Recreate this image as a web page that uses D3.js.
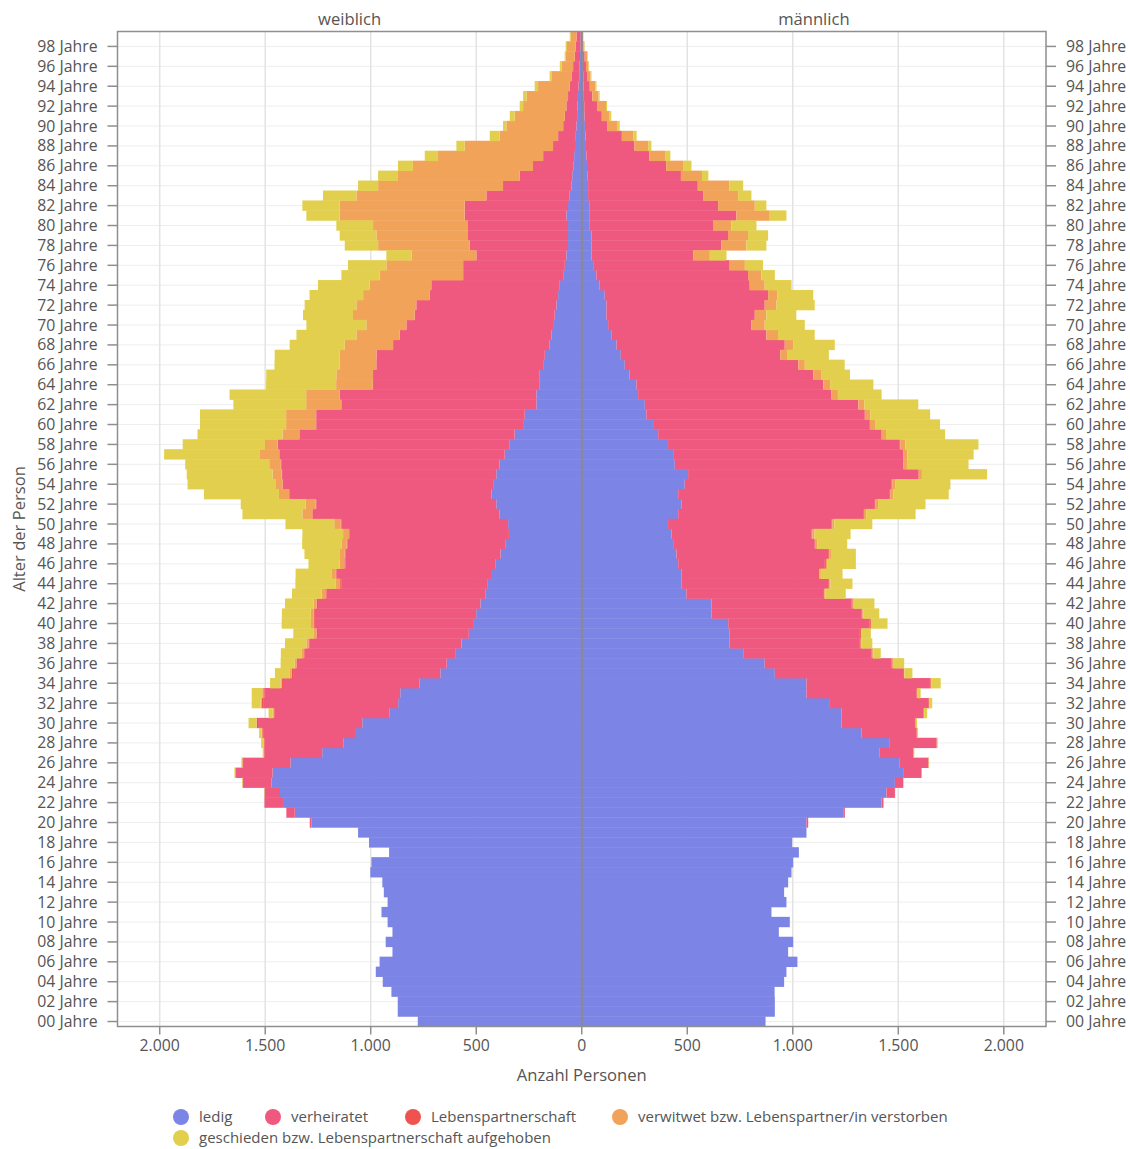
<!DOCTYPE html>
<html>
<head>
<meta charset="utf-8">
<script src="https://cdn.jsdelivr.net/npm/d3@7"></script>
<style>
  body { margin: 0; background: #fff; }
  text { font-family: "Open Sans", sans-serif; fill: #555; font-size: 15.8px; }
  text.axisTitle { font-size: 16.6px; }
  .legend text { font-size: 15px; }
</style>
</head>
<body>
<svg class="svgChart"></svg>
<script>
// ages 0 - 99, one value per age
var ages = d3.range(0, 100);

// weiblich
var femLedig = [
  777, 872, 872, 902, 943, 976, 958, 897, 929, 897,
  920, 949, 920, 938, 945, 1002, 997, 913, 1008, 1060,
  1280, 1360, 1416, 1430, 1470, 1465, 1380, 1230, 1130, 1070,
  1040, 910, 870, 860, 768, 670, 640, 600, 570, 535,
  515, 500, 480, 455, 445, 430, 410, 385, 360, 345,
  349, 389, 405, 428, 420, 405, 389, 365, 341, 318,
  278, 270, 215, 215, 199, 199, 183, 175, 152, 144,
  136, 128, 120, 112, 104, 88, 80, 73, 65, 65,
  65, 73, 65, 57, 49, 45, 40, 36, 32, 28,
  25, 22, 20, 18, 15, 12, 10, 8, 6, 5
];
var femVerheiratet = [
  0, 0, 0, 0, 0, 0, 0, 0, 0, 0,
  0, 0, 0, 0, 0, 0, 0, 0, 0, 0,
  9, 40, 87, 73, 135, 175, 225, 273, 373, 440,
  494, 545, 640, 643, 648, 698, 705, 713, 719, 715,
  750, 765, 770, 755, 695, 733, 710, 735, 750, 755,
  790, 885, 853, 956, 996, 1015, 1035, 1067, 1099, 1019,
  980, 988, 924, 932, 790, 790, 790, 798, 742, 719,
  695, 664, 664, 608, 609, 474, 482, 426, 466, 474,
  474, 482, 490, 395, 324, 249, 191, 147, 104, 84,
  63, 58, 53, 47, 42, 37, 31, 25, 22, 20
];
var femPartner = [
  0, 0, 0, 0, 0, 0, 0, 0, 0, 0,
  0, 0, 0, 0, 0, 0, 0, 0, 0, 0,
  0, 0, 1, 1, 2, 2, 3, 3, 4, 4,
  5, 5, 6, 6, 6, 7, 7, 6, 6, 7,
  6, 5, 6, 5, 5, 4, 5, 4, 4, 3,
  4, 3, 3, 3, 2, 2, 2, 2, 1, 2,
  1, 1, 1, 1, 1, 0, 1, 0, 0, 0,
  0, 0, 0, 0, 0, 0, 0, 0, 0, 0,
  0, 0, 0, 0, 0, 0, 0, 0, 0, 0,
  0, 0, 0, 0, 0, 0, 0, 0, 0, 0
];
var femVerwitwet = [
  0, 0, 0, 0, 0, 0, 0, 0, 0, 0,
  0, 0, 0, 0, 0, 0, 0, 0, 0, 0,
  0, 0, 0, 0, 0, 0, 0, 0, 2, 3,
  3, 4, 5, 5, 6, 8, 8, 10, 10, 12,
  12, 14, 15, 18, 20, 20, 22, 25, 25, 28,
  30, 47, 47, 48, 31, 43, 55, 94, 60, 79,
  142, 142, 166, 158, 174, 174, 174, 174, 229, 205,
  190, 292, 284, 316, 292, 395, 364, 308, 434, 434,
  450, 592, 592, 616, 592, 577, 569, 498, 419, 277,
  269, 238, 205, 197, 150, 95, 55, 43, 42, 27
];
var femGeschieden = [
  0, 0, 0, 0, 0, 0, 0, 0, 0, 0,
  0, 0, 0, 0, 0, 0, 0, 0, 0, 0,
  0, 0, 0, 2, 3, 4, 5, 6, 10, 12,
  37, 20, 43, 50, 49, 71, 67, 97, 101, 98,
  139, 137, 135, 140, 192, 169, 148, 165, 186, 193,
  231, 284, 308, 355, 419, 407, 398, 451, 390, 403,
  408, 408, 345, 363, 332, 332, 308, 308, 261, 284,
  284, 237, 245, 254, 245, 182, 182, 119, 158, 174,
  174, 158, 177, 158, 95, 94, 71, 63, 39, 47,
  16, 23, 16, 16, 16, 8, 8, 5, 6, 5
];

// männlich
var manLedig = [
  871, 915, 915, 914, 959, 970, 1022, 978, 1002, 934,
  986, 899, 970, 959, 978, 994, 1002, 1029, 997, 1065,
  1065, 1239, 1420, 1444, 1484, 1523, 1507, 1412, 1460, 1326,
  1231, 1231, 1176, 1065, 1065, 915, 867, 765, 701, 701,
  694, 615, 615, 496, 472, 472, 457, 449, 433, 425,
  409, 457, 472, 457, 488, 504, 441, 433, 409, 362,
  338, 306, 299, 267, 259, 227, 204, 185, 165, 140,
  125, 117, 117, 109, 85, 69, 54, 46, 46, 46,
  38, 38, 38, 30, 30, 28, 25, 22, 20, 18,
  15, 13, 12, 10, 8, 7, 5, 4, 3, 2
];
var manVerheiratet = [
  0, 0, 0, 0, 0, 0, 0, 0, 0, 0,
  0, 0, 0, 0, 0, 0, 0, 0, 0, 0,
  8, 8, 10, 40, 39, 87, 135, 159, 221, 260,
  348, 387, 466, 521, 585, 608, 601, 608, 617, 617,
  671, 710, 663, 648, 696, 648, 695, 719, 671, 664,
  774, 876, 917, 1003, 980, 1090, 1082, 1090, 1098, 1058,
  1027, 1035, 1011, 916, 885, 870, 822, 755, 797, 735,
  679, 703, 750, 774, 711, 719, 647, 482, 616, 647,
  584, 695, 608, 545, 520, 442, 375, 298, 230, 172,
  105, 82, 63, 40, 30, 21, 15, 10, 4, 2
];
var manPartner = [
  0, 0, 0, 0, 0, 0, 0, 0, 0, 0,
  0, 0, 0, 0, 0, 0, 0, 0, 0, 0,
  0, 0, 0, 1, 1, 1, 2, 2, 2, 3,
  3, 3, 4, 4, 4, 4, 5, 5, 4, 5,
  5, 5, 6, 5, 5, 6, 5, 5, 4, 4,
  4, 4, 3, 3, 3, 3, 2, 2, 2, 2,
  1, 1, 1, 1, 1, 1, 0, 1, 0, 0,
  0, 0, 0, 0, 0, 0, 0, 0, 0, 0,
  0, 0, 0, 0, 0, 0, 0, 0, 0, 0,
  0, 0, 0, 0, 0, 0, 0, 0, 0, 0
];
var manVerwitwet = [
  0, 0, 0, 0, 0, 0, 0, 0, 0, 0,
  0, 0, 0, 0, 0, 0, 0, 0, 0, 0,
  0, 0, 0, 0, 0, 0, 0, 0, 0, 0,
  1, 1, 2, 2, 2, 2, 2, 3, 3, 3,
  4, 5, 5, 6, 6, 7, 8, 8, 9, 10,
  10, 11, 12, 13, 14, 15, 16, 18, 24, 20,
  24, 25, 28, 30, 32, 39, 31, 35, 40, 55,
  63, 55, 56, 45, 71, 63, 72, 79, 118, 95,
  87, 158, 174, 166, 150, 100, 80, 75, 65, 55,
  50, 37, 40, 30, 26, 14, 12, 11, 5, 3
];
var manGeschieden = [
  0, 0, 0, 0, 0, 0, 0, 0, 0, 0,
  0, 0, 0, 0, 0, 0, 0, 0, 0, 0,
  0, 0, 0, 0, 0, 1, 2, 3, 4, 5,
  6, 15, 13, 14, 45, 38, 53, 36, 52, 44,
  75, 75, 98, 96, 104, 103, 134, 118, 141, 171,
  180, 234, 225, 263, 262, 309, 292, 314, 347, 280,
  308, 284, 256, 207, 205, 134, 189, 195, 197, 174,
  190, 142, 181, 169, 127, 64, 86, 79, 95, 95,
  119, 79, 55, 63, 65, 30, 40, 25, 15, 15,
  10, 8, 5, 5, 6, 4, 3, 3, 2, 1
];

var keys = ['ledig', 'verheiratet', 'partner', 'verwitwet', 'geschieden'];
var legendLabels = ['ledig', 'verheiratet', 'Lebenspartnerschaft',
  'verwitwet bzw. Lebenspartner/in verstorben',
  'geschieden bzw. Lebenspartnerschaft aufgehoben'];
var colorArr = ['#7c84e6', '#ef597f', '#ef5350', '#f2a35a', '#e2cf4e'];
var xTicks = [-2000, -1500, -1000, -500, 0, 500, 1000, 1500, 2000];

// set the dimensions and margins of the graph
var margin = {top: 31.5, right: 84, bottom: 122.5, left: 117.5};
var width = 1130 - margin.left - margin.right;
var height = 1149 - margin.top - margin.bottom;

var de = d3.formatLocale({decimal: ',', thousands: '.', grouping: [3], currency: ['', ' €']});
var fmt = de.format(',');

function buildRows(l, v, p, w, g) {
  return ages.map(function(a) {
    return {age: a, ledig: l[a], verheiratet: v[a], partner: p[a], verwitwet: w[a], geschieden: g[a]};
  });
}
var femRows = buildRows(femLedig, femVerheiratet, femPartner, femVerwitwet, femGeschieden);
var manRows = buildRows(manLedig, manVerheiratet, manPartner, manVerwitwet, manGeschieden);

var svg = d3.select('.svgChart')
  .attr('width', 1130)
  .attr('height', 1149);

var g = svg.append('g')
  .attr('transform', 'translate(' + margin.left + ',' + margin.top + ')');

var xScale = d3.scaleLinear()
  .domain([-2200, 2200])
  .range([0, width]);

var yScale = d3.scaleBand()
  .domain(ages)
  .range([height, 0])
  .padding(0);

var zScale = d3.scaleOrdinal()
  .domain(keys)
  .range(colorArr);

var evenAges = ages.filter(function(a) { return a % 2 === 0; });
var bw = yScale.bandwidth();

/******************GRID*********************/
g.append('g')
  .selectAll('line')
  .data(evenAges)
  .enter()
  .append('line')
    .attr('x1', 0)
    .attr('x2', width)
    .attr('y1', function(d) { return yScale(d) + bw / 2; })
    .attr('y2', function(d) { return yScale(d) + bw / 2; })
    .attr('stroke', '#eeeeee')
    .attr('stroke-width', 1);

g.append('g')
  .selectAll('line')
  .data(xTicks.filter(function(d) { return d !== 0; }))
  .enter()
  .append('line')
    .attr('x1', function(d) { return xScale(d); })
    .attr('x2', function(d) { return xScale(d); })
    .attr('y1', 0)
    .attr('y2', height)
    .attr('stroke', '#e3e3e3')
    .attr('stroke-width', 1.5);

/******************BARS*********************/
var stack = d3.stack().keys(keys);

function drawSide(rows, sign) {
  g.append('g')
    .selectAll('g')
    .data(stack(rows))
    .enter()
    .append('g')
      .attr('fill', function(d) { return zScale(d.key); })
    .selectAll('rect')
    .data(function(d) { return d; })
    .enter()
    .append('rect')
      .attr('x', function(d) { return Math.min(xScale(sign * d[0]), xScale(sign * d[1])); })
      .attr('width', function(d) { return Math.abs(xScale(sign * d[1]) - xScale(sign * d[0])); })
      .attr('y', function(d) { return yScale(d.data.age) - 0.2; })
      .attr('height', bw + 0.4);
}
drawSide(femRows, -1);
drawSide(manRows, 1);

// zero line
g.append('line')
  .attr('x1', xScale(0))
  .attr('x2', xScale(0))
  .attr('y1', 0)
  .attr('y2', height)
  .attr('stroke', '#8a8a8a')
  .attr('stroke-width', 2);

/******************AXES*********************/
// frame round the plot
g.append('rect')
  .attr('x', 0)
  .attr('y', 0)
  .attr('width', width)
  .attr('height', height)
  .attr('fill', 'none')
  .attr('stroke', '#8f8f8f')
  .attr('stroke-width', 1.5);

function ageLabel(a) {
  return (a < 10 ? '0' + a : a) + ' Jahre';
}

// y ticks, both sides
[{x0: -10, x1: 0, tx: -20, anchor: 'end'},
 {x0: width, x1: width + 10, tx: width + 20, anchor: 'start'}].forEach(function(s) {
  var ax = g.append('g').attr('class', 'yAxis');
  ax.selectAll('line')
    .data(evenAges)
    .enter()
    .append('line')
      .attr('x1', s.x0)
      .attr('x2', s.x1)
      .attr('y1', function(d) { return yScale(d) + bw / 2; })
      .attr('y2', function(d) { return yScale(d) + bw / 2; })
      .attr('stroke', '#8f8f8f')
      .attr('stroke-width', 1.5);
  ax.selectAll('text')
    .data(evenAges)
    .enter()
    .append('text')
      .attr('x', s.tx)
      .attr('y', function(d) { return yScale(d) + bw / 2; })
      .attr('dy', '0.35em')
      .attr('text-anchor', s.anchor)
      .text(ageLabel);
});

// x ticks
var xAxis = g.append('g').attr('class', 'xAxis');
xAxis.selectAll('line')
  .data(xTicks)
  .enter()
  .append('line')
    .attr('x1', function(d) { return xScale(d); })
    .attr('x2', function(d) { return xScale(d); })
    .attr('y1', height)
    .attr('y2', height + 8)
    .attr('stroke', '#8f8f8f')
    .attr('stroke-width', 1.5);
xAxis.selectAll('text')
  .data(xTicks)
  .enter()
  .append('text')
    .attr('x', function(d) { return xScale(d); })
    .attr('y', height + 19)
    .attr('dy', '0.35em')
    .attr('text-anchor', 'middle')
    .text(function(d) { return fmt(Math.abs(d)); });

/******************TITLES*********************/
g.append('text')
  .attr('class', 'axisTitle')
  .attr('x', xScale(-1100))
  .attr('y', -12)
  .attr('dy', '0.35em')
  .attr('text-anchor', 'middle')
  .text('weiblich');

g.append('text')
  .attr('class', 'axisTitle')
  .attr('x', xScale(1100))
  .attr('y', -12)
  .attr('dy', '0.35em')
  .attr('text-anchor', 'middle')
  .text('männlich');

g.append('text')
  .attr('class', 'axisTitle')
  .attr('x', width / 2)
  .attr('y', height + 49)
  .attr('dy', '0.35em')
  .attr('text-anchor', 'middle')
  .text('Anzahl Personen');

svg.append('text')
  .attr('class', 'axisTitle')
  .attr('transform', 'translate(19,' + (margin.top + height / 2) + ') rotate(-90)')
  .attr('dy', '0.35em')
  .attr('text-anchor', 'middle')
  .text('Alter der Person');

/******************LEGEND*********************/
// second row sits a bit higher so its text is not cut at the bottom edge
var legendPos = [[181, 1117], [273, 1117], [413, 1117], [620, 1117], [181, 1138]];

var legend = svg.append('g')
    .attr('class', 'legend')
  .selectAll('g')
  .data(keys)
  .enter()
  .append('g')
    .attr('transform', function(d, i) {
      return 'translate(' + legendPos[i][0] + ',' + legendPos[i][1] + ')';
    });

legend.append('circle')
  .attr('r', 8)
  .attr('fill', function(d) { return zScale(d); });

legend.append('text')
  .attr('x', 18)
  .attr('dy', '0.35em')
  .text(function(d, i) { return legendLabels[i]; });
</script>
</body>
</html>
